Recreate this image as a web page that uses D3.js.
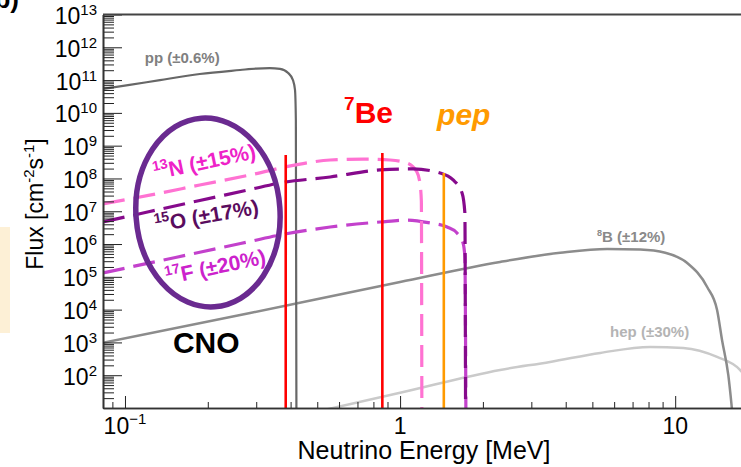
<!DOCTYPE html>
<html>
<head>
<meta charset="utf-8">
<script src="https://cdn.jsdelivr.net/npm/d3@7"></script>
<style>
  body { margin: 0; background: #fff; }
  svg { display: block; font-family: "Liberation Sans", Arial, Helvetica, sans-serif; }
</style>
</head>
<body>
<div id="canvas"></div>
<script>
// solar neutrino spectra, [energy in MeV, flux in cm^-2 s^-1 (MeV^-1)]
const ppSpec = [[0.0832,5.4e10],[0.104,7.1e10],[0.134,1.0e11],[0.187,1.53e11],[0.262,2.03e11],[0.3,2.25e11],
  [0.336,2.3e11],[0.366,2.2e11],[0.392,1.64e11],[0.408,1.0e11],[0.415,5.0e10],[0.418,6e9],[0.42,5]];
const b8Spec = [[0.0832,9.7e2],[0.285,7.9e3],[1.0,7.0e4],[2.31,2.85e5],[3.82,5.4e5],[5.66,7.1e5],[7.47,6.8e5],
  [9.2,5.4e5],[11.06,2.65e5],[13.07,4.9e4],[14.2,9.8e3],[14.8,1.19e3],[15.6,1.0e2],[16.2,5]];
const hepSpec = [[0.51,8.1],[1.0,29],[2.31,145],[3.51,254],[5.34,479],[8.11,730],[10.7,680],[14.2,361],
  [17.2,145],[18.4,50],[18.8,5]];
const n13Spec = [[0.0832,1.67e7],[0.123,3.1e7],[0.187,6.3e7],[0.285,1.28e8],[0.433,2.75e8],[0.557,3.65e8],
  [0.734,3.9e8],[0.92,3.65e8],[1.06,2.95e8],[1.15,1.6e8],[1.18,7.5e7],[1.195,2e7],[1.2,5]];
const o15Spec = [[0.0832,4.72e6],[0.123,9.8e6],[0.187,2.13e7],[0.285,4.6e7],[0.366,7.3e7],[0.557,1.11e8],
  [0.846,1.82e8],[1.114,1.95e8],[1.398,1.47e8],[1.559,9.0e7],[1.68,3.6e7],[1.72,8.9e6],[1.73,5]];
const f17Spec = [[0.0832,1.31e5],[0.123,2.66e5],[0.187,5.6e5],[0.285,1.2e6],[0.366,1.89e6],[0.557,3.3e6],
  [0.846,4.7e6],[1.06,5.4e6],[1.285,4.4e6],[1.483,3.3e6],[1.61,2.18e6],[1.694,1.08e6],[1.72,4.0e5],[1.735,5]];

// monoenergetic lines [energy MeV, flux]
const be7Lines = [[0.384,5.2e8],[0.862,6.0e8]];
const pepLines = [[1.442,1.47e8]];

const eRange = [0.0832, 20];
const fluxRange = [10, 1e13];
const xLabelTicks = [0.1, 1, 10];
const xLabelText = ["10|−1", "1", "10"];

const w = 741, h = 467;
const svg = d3.select("#canvas").append("svg")
  .attr("width", w).attr("height", h);

const x = d3.scaleLog().domain(eRange).range([103, 758]);
const y = d3.scaleLog().domain(fluxRange).range([408, 14.5]);
const [x0, x1] = x.range();
const [y0, y1] = y.range();

// leftovers of the cropped figure
svg.append("rect").attr("x", 0).attr("y", 227).attr("width", 10).attr("height", 106).attr("fill", "#fdf0d6");
svg.append("text").attr("x", 19).attr("y", 8).attr("text-anchor", "end")
  .attr("font-size", 26).attr("font-weight", "bold").text("b)");

svg.append("defs").append("clipPath").attr("id", "plotClip")
  .append("rect").attr("x", x0).attr("y", y1).attr("width", x1 - x0).attr("height", y0 - y1);

const plot = svg.append("g").attr("clip-path", "url(#plotClip)");

const line = d3.line()
  .x(d => x(d[0]))
  .y(d => y(d[1]))
  .curve(d3.curveMonotoneX);

function spectrum(data, color, width, dash){
  plot.append("path")
    .datum(data)
    .attr("d", line)
    .attr("fill", "none")
    .attr("stroke", color)
    .attr("stroke-width", width)
    .attr("stroke-dasharray", dash || null);
}

spectrum(hepSpec, "#cacaca", 2.5);
spectrum(b8Spec, "#8c8c8c", 2.5);
spectrum(ppSpec, "#676767", 2.2);
spectrum(f17Spec, "#c341cc", 3.2, "22,9");
spectrum(n13Spec, "#ff72d2", 3.2, "22,9");
spectrum(o15Spec, "#860a8c", 3.2, "22,9");

function monoLines(data, color){
  plot.selectAll(null).data(data).join("line")
    .attr("x1", d => x(d[0])).attr("x2", d => x(d[0]))
    .attr("y1", d => y(d[1])).attr("y2", y0)
    .attr("stroke", color).attr("stroke-width", 2.6);
}
monoLines(be7Lines, "#ff0000");
monoLines(pepLines, "#ff9a00");

// CNO ellipse
const ex0 = x(0.1096), ex1 = x(0.366), ey0 = y(7.0e9), ey1 = y(1.2e4);
svg.append("ellipse")
  .attr("cx", (ex0 + ex1) / 2).attr("cy", (ey0 + ey1) / 2)
  .attr("rx", (ex1 - ex0) / 2).attr("ry", (ey1 - ey0) / 2)
  .attr("transform", `rotate(-4,${(ex0 + ex1) / 2},${(ey0 + ey1) / 2})`)
  .attr("fill", "none").attr("stroke", "#6a2a90").attr("stroke-width", 5.5);

// axes
const isDecade = d => Math.abs(Math.log10(d) - Math.round(Math.log10(d))) < 1e-9;
const yTicks = y.ticks(60);
const xTicks = x.ticks();

function axisG(){ return svg.append("g").attr("class", "axis"); }

axisG().attr("transform", `translate(${x0},0)`)
  .call(d3.axisLeft(y).tickValues(yTicks.filter(d => !isDecade(d))).tickSizeInner(-11).tickSizeOuter(0).tickFormat(""));
axisG().attr("transform", `translate(${x0},0)`)
  .call(d3.axisLeft(y).tickValues(yTicks.filter(isDecade)).tickSizeInner(-19).tickSizeOuter(0).tickFormat(""));
axisG().attr("transform", `translate(0,${y0})`)
  .call(d3.axisBottom(x).tickValues(xTicks.filter(d => !isDecade(d))).tickSizeInner(-6).tickSizeOuter(0).tickFormat(""));
axisG().attr("transform", `translate(0,${y0})`)
  .call(d3.axisBottom(x).tickValues(xTicks.filter(isDecade)).tickSizeInner(-12).tickSizeOuter(0).tickFormat(""));

svg.selectAll(".axis .domain").attr("stroke", "#333").attr("stroke-width", 1.6);
svg.selectAll(".axis .tick line").attr("stroke", "#222").attr("stroke-width", 1);

// frame top
svg.append("line").attr("x1", x0).attr("x2", x1).attr("y1", y1).attr("y2", y1)
  .attr("stroke", "#444").attr("stroke-width", 2);

// y tick labels
svg.append("g").selectAll("text")
  .data(yTicks.filter(isDecade).filter(d => d >= 100))
  .join("text")
  .attr("x", x0 - 6).attr("y", d => y(d) + 9.5)
  .attr("text-anchor", "end").attr("font-size", 23)
  .each(function(d){
    const t = d3.select(this);
    t.append("tspan").text("10");
    t.append("tspan").attr("dy", -9).attr("font-size", 15).text(Math.round(Math.log10(d)));
  });

// x tick labels
svg.append("g").selectAll("text")
  .data(xLabelTicks)
  .join("text")
  .attr("x", d => x(d)).attr("y", 434)
  .attr("text-anchor", "middle").attr("font-size", 23)
  .each(function(d, i){
    const parts = xLabelText[i].split("|");
    const t = d3.select(this);
    t.append("tspan").text(parts[0]);
    if (parts[1]) t.append("tspan").attr("dy", -10).attr("font-size", 15).text(parts[1]);
  });

// axis titles
svg.append("text").attr("x", 424).attr("y", 459).attr("text-anchor", "middle")
  .attr("font-size", 25).text("Neutrino Energy [MeV]");

const yt = svg.append("text").attr("transform", "translate(43,204) rotate(-90)")
  .attr("text-anchor", "middle").attr("font-size", 23);
yt.append("tspan").text("Flux [cm");
yt.append("tspan").attr("dy", -9).attr("font-size", 15).text("-2");
yt.append("tspan").attr("dy", 9).text("s");
yt.append("tspan").attr("dy", -9).attr("font-size", 15).text("-1");
yt.append("tspan").attr("dy", 9).text("]");

// spectrum labels
function supLabel(e, flux, sup, main, color, size, supSize, angle, anchor, weight){
  const px = x(e), py = y(flux);
  const t = svg.append("text")
    .attr("transform", `translate(${px},${py}) rotate(${angle || 0})`)
    .attr("text-anchor", anchor || "start")
    .attr("font-size", size).attr("font-weight", weight || "bold")
    .attr("fill", color);
  if (sup) {
    t.append("tspan").attr("dy", -0.42 * size).attr("font-size", supSize).text(sup);
    t.append("tspan").attr("dy", 0.42 * size).text(main);
  } else {
    t.append("tspan").text(main);
  }
  return t;
}

supLabel(0.118, 3.3e11, "", "pp (±0.6%)", "#808080", 15);
supLabel(5.2, 1.16e6, "8", "B (±12%)", "#8a8a8a", 15, 9);
supLabel(5.8, 1.47e3, "", "hep (±30%)", "#b4b4b4", 15);

supLabel(0.197, 1.95e8, "13", "N (±15%)", "#ee22c8", 21, 14, -12, "middle");
supLabel(0.2, 4.4e6, "15", "O (±17%)", "#5a0c5e", 21, 14, -10, "middle");
supLabel(0.216, 1.22e5, "17", "F (±20%)", "#cc22cc", 21, 14, -12, "middle");

supLabel(0.1494, 4.8e2, "", "CNO", "#000", 30);
supLabel(0.626, 4.9e9, "7", "Be", "#ff0000", 30, 19);
supLabel(1.363, 4.3e9, "", "pep", "#ff9a00", 30).attr("font-style", "italic");
</script>
</body>
</html>
